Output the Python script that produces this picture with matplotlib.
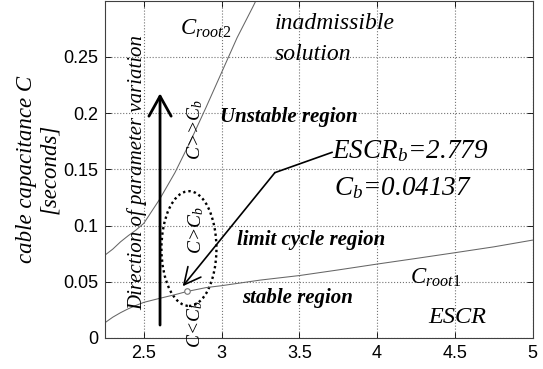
import matplotlib
matplotlib.use("Agg")
import matplotlib.pyplot as plt
from matplotlib.patches import Ellipse

# Data
escr_root1 = [2.25, 2.30, 2.35, 2.40, 2.45, 2.50, 2.60, 2.70, 2.779, 2.90,
              3.00, 3.25, 3.50, 3.75, 4.00, 4.25, 4.50, 4.75, 5.00]
c_root1 = [0.0136, 0.0185, 0.0225, 0.0260, 0.0290, 0.0317, 0.0352, 0.0385,
           0.0414, 0.0448, 0.0465, 0.0515, 0.0555, 0.0605, 0.0657, 0.0707,
           0.0758, 0.0810, 0.0870]

escr_root2 = [2.25, 2.30, 2.35, 2.40, 2.45, 2.50, 2.60, 2.70, 2.80, 2.90,
              3.00, 3.10, 3.20, 3.25]
c_root2 = [0.0737, 0.0790, 0.0855, 0.0910, 0.0960, 0.1020, 0.1230, 0.1470,
           0.1750, 0.2050, 0.2360, 0.2670, 0.2940, 0.3080]

escr_b = 2.779
c_b = 0.04137

x_ticks = [2.5, 3, 3.5, 4, 4.5, 5]
x_ticklabels = ["2.5", "3", "3.5", "4", "4.5", "5"]
y_ticks = [0, 0.05, 0.1, 0.15, 0.2, 0.25]
y_ticklabels = ["0", "0.05", "0.1", "0.15", "0.2", "0.25"]

plt.rcParams["mathtext.fontset"] = "custom"
plt.rcParams["mathtext.rm"] = "Liberation Serif"
plt.rcParams["mathtext.it"] = "Liberation Serif:italic"
plt.rcParams["mathtext.bf"] = "Liberation Serif:bold"

SERIF = "Liberation Serif"

fig = plt.figure(figsize=(5.43, 3.69), dpi=100)
ax = fig.add_axes([105 / 543, 1 - 338 / 369, 427.5 / 543, 337.5 / 369])

ax.plot(escr_root1, c_root1, color="0.4", lw=0.75)
ax.plot(escr_root2, c_root2, color="0.4", lw=0.75)
ax.plot([escr_b], [c_b], "o", mfc="white", mec="0.45", ms=4, mew=0.8)

ax.set_xlim(2.25, 5)
ax.set_ylim(0, 0.3)
ax.set_xticks(x_ticks)
ax.set_xticklabels(x_ticklabels)
ax.set_yticks(y_ticks)
ax.set_yticklabels(y_ticklabels)
ax.tick_params(direction="in", length=4, width=0.6, top=True, right=True,
               labelsize=13, pad=5)
for lab in ax.get_xticklabels() + ax.get_yticklabels():
    lab.set_family("Liberation Sans")
ax.grid(True, linestyle=":", color="0.45", lw=0.8)
for s in ax.spines.values():
    s.set_linewidth(0.8)
    s.set_color("0.25")

ax.set_ylabel("cable capacitance C\n[seconds]", family=SERIF, style="italic",
              fontsize=16.5, labelpad=2, linespacing=1.15)

# dotted ellipse round the bifurcation point
ax.add_patch(Ellipse((2.79, 0.0795), 0.354, 0.102, fill=False, ls=(0, (1, 1.3)),
                     lw=1.7, color="black"))

# direction arrow
ax.annotate("", xy=(2.604, 0.2175), xytext=(2.604, 0.0115),
            arrowprops=dict(arrowstyle="->,head_length=0.72,head_width=0.4",
                            lw=2, color="black", mutation_scale=20,
                            shrinkA=0, shrinkB=0))
ax.text(2.46, 0.1467, "Direction of parameter variation", rotation=90,
        ha="center", va="center", family=SERIF, style="italic", fontsize=15)

# pointer to ESCR_b
ax.plot([3.343, 3.71], [0.147, 0.165], color="black", lw=1.2)
ax.annotate("", xy=(2.75, 0.046), xytext=(3.343, 0.147),
            arrowprops=dict(arrowstyle="->,head_length=0.6,head_width=0.3",
                            lw=1.2, color="black", mutation_scale=20,
                            shrinkA=0, shrinkB=0))
ax.text(3.71, 0.160, "ESCR$_b$=2.779", family=SERIF, style="italic",
        fontsize=19.5, ha="left", va="baseline")
ax.text(3.723, 0.127, "C$_b$=0.04137", family=SERIF, style="italic",
        fontsize=19.5, ha="left", va="baseline")

# curve names and regions
ax.text(2.732, 0.270, r"C$_{\mathit{root2}}$", family=SERIF, style="italic",
        fontsize=16.5, ha="left", va="baseline")
ax.text(4.212, 0.048, r"C$_{\mathit{root1}}$", family=SERIF, style="italic",
        fontsize=16.5, ha="left", va="baseline")
ax.text(3.344, 0.2747, "inadmissible", family=SERIF, style="italic",
        fontsize=17, ha="left", va="baseline")
ax.text(3.344, 0.247, "solution", family=SERIF, style="italic",
        fontsize=17, ha="left", va="baseline")
ax.text(2.99, 0.192, "Unstable region", family=SERIF, style="italic",
        weight="bold", fontsize=15, ha="left", va="baseline")
ax.text(3.099, 0.0827, "limit cycle region", family=SERIF, style="italic",
        weight="bold", fontsize=15, ha="left", va="baseline")
ax.text(3.129, 0.031, "stable region", family=SERIF, style="italic",
        weight="bold", fontsize=15, ha="left", va="baseline")
ax.text(4.33, 0.0136, "ESCR", family=SERIF, style="italic", fontsize=17.5,
        ha="left", va="baseline")

# rotated relation labels
ax.text(2.83, 0.185, "C>>C$_b$", rotation=90, family=SERIF, style="italic",
        fontsize=14, ha="center", va="center")
ax.text(2.835, 0.096, "C>C$_b$", rotation=90, family=SERIF, style="italic",
        fontsize=14, ha="center", va="center")
ax.text(2.83, 0.012, "C<C$_b$", rotation=90, family=SERIF, style="italic",
        fontsize=14, ha="center", va="center", clip_on=False)

fig.savefig("out.png", dpi=100)
